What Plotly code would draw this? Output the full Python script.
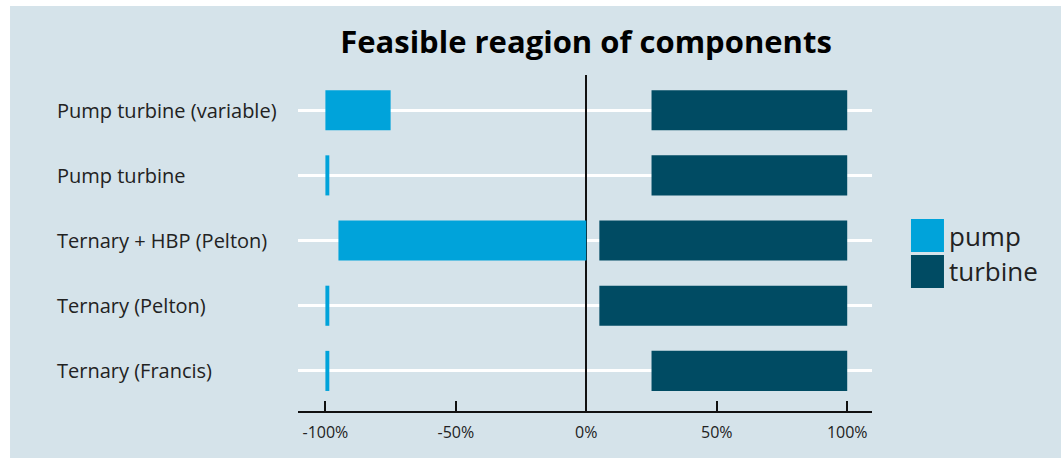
import plotly.graph_objects as go

# Components, listed bottom to top
components = [
    "Ternary (Francis)",
    "Ternary (Pelton)",
    "Ternary + HBP (Pelton)",
    "Pump turbine",
    "Pump turbine (variable)",
]

# Feasible operating range in % of rated power (negative = pumping)
pump_start = [-100, -100, -95, -100, -100]
pump_end = [-98.5, -98.5, 0, -98.5, -75]
turbine_start = [25, 5, 5, 25, 25]
turbine_end = [100, 100, 100, 100, 100]

x_tick_values = [-100, -50, 0, 50, 100]
x_tick_labels = ["-100%", "-50%", "0%", "50%", "100%"]

PUMP_COLOR = "#00a3da"
TURBINE_COLOR = "#004b63"
BG_COLOR = "#d5e3ea"
TEXT_COLOR = "#222222"
FONT = "Open Sans"

fig = go.Figure()

fig.add_trace(go.Bar(
    y=components,
    x=[e - s for s, e in zip(pump_start, pump_end)],
    base=pump_start,
    orientation="h",
    name="pump",
    marker=dict(color=PUMP_COLOR, line=dict(width=0)),
    showlegend=False,
))
fig.add_trace(go.Bar(
    y=components,
    x=[e - s for s, e in zip(turbine_start, turbine_end)],
    base=turbine_start,
    orientation="h",
    name="turbine",
    marker=dict(color=TURBINE_COLOR, line=dict(width=0)),
    showlegend=False,
))

# Panel background (leaves a thin white margin at top and left)
fig.add_shape(type="rect", xref="paper", yref="paper",
              x0=-0.5017, x1=1.3293, y0=-0.1399, y1=1.2054,
              fillcolor=BG_COLOR, line=dict(width=0), layer="below")

# Category labels, left aligned
for comp in components:
    fig.add_annotation(x=-0.4237, xref="paper", y=comp, yref="y",
                       text=comp, showarrow=False, xanchor="left",
                       yanchor="middle",
                       font=dict(family=FONT, size=20, color=TEXT_COLOR))

# Legend with large swatches
legend_items = [("pump", PUMP_COLOR, 0.5714, 0.4732),
                ("turbine", TURBINE_COLOR, 0.4643, 0.3661)]
for label, color, top, bottom in legend_items:
    fig.add_shape(type="rect", xref="paper", yref="paper",
                  x0=1.0679, x1=1.1254, y0=bottom, y1=top,
                  fillcolor=color, line=dict(width=0))
    fig.add_annotation(x=1.1306, xref="paper", y=(top + bottom) / 2,
                       yref="paper", text=label, showarrow=False,
                       xanchor="left", yanchor="middle",
                       font=dict(family=FONT, size=26, color=TEXT_COLOR))

fig.update_layout(
    width=1061,
    height=458,
    margin=dict(l=298, r=189, t=75, b=47),
    paper_bgcolor="white",
    plot_bgcolor="rgba(0,0,0,0)",
    barmode="overlay",
    bargap=0.385,
    showlegend=False,
    title=dict(text="<b>Feasible reagion of components</b>",
               x=586 / 1061, xanchor="center",
               y=1 - 42 / 458, yanchor="middle",
               font=dict(family=FONT, size=31, color="black")),
    font=dict(family=FONT, color=TEXT_COLOR),
)

fig.update_xaxes(
    range=[-110.5, 109.5],
    tickvals=x_tick_values,
    ticktext=x_tick_labels,
    ticks="inside",
    ticklen=10,
    tickwidth=1.5,
    tickcolor="#111111",
    ticklabelstandoff=6,
    showline=True,
    linecolor="#111111",
    linewidth=1.5,
    showgrid=False,
    zeroline=True,
    zerolinecolor="#111111",
    zerolinewidth=1.5,
    tickfont=dict(family=FONT, size=16, color=TEXT_COLOR),
    fixedrange=True,
)

fig.update_yaxes(
    categoryorder="array",
    categoryarray=components,
    range=[-0.615, 4.54],
    showticklabels=False,
    showgrid=True,
    gridcolor="white",
    gridwidth=3,
    zeroline=False,
    showline=False,
    ticks="",
    fixedrange=True,
)

fig.write_html("out.html")
